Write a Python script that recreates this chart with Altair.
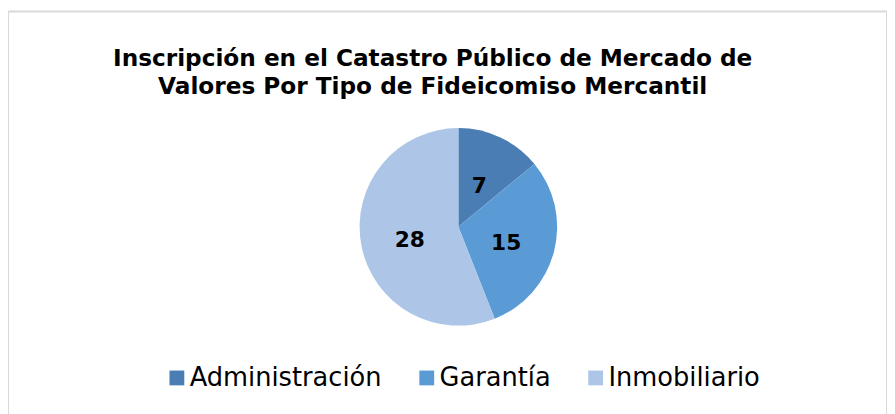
import altair as alt
import pandas as pd

categories = ["Administración", "Garantía", "Inmobiliario"]
values = [7, 15, 28]
colors = ["#4a7db4", "#5b9bd5", "#adc6e8"]
title_lines = ["Inscripción en el Catastro Público de Mercado de",
               "Valores Por Tipo de Fideicomiso Mercantil"]

df = pd.DataFrame({"Tipo": categories, "Valor": values,
                   "orden": list(range(len(categories)))})

base = alt.Chart(df).encode(
    theta=alt.Theta("Valor:Q", stack=True),
    order=alt.Order("orden:Q"),
    color=alt.Color(
        "Tipo:N",
        scale=alt.Scale(domain=categories, range=colors),
        legend=alt.Legend(
            orient="none", legendX=158, legendY=358, direction="horizontal",
            title=None, symbolType="square", symbolSize=225, symbolStrokeWidth=0,
            symbolOpacity=1, labelFont="DejaVu Sans", labelFontSize=26,
            labelColor="black", labelOffset=0, columnPadding=32, labelLimit=400,
            padding=0,
        ),
    ),
)

pie = base.mark_arc(radius=100).encode(x=alt.value(456), y=alt.value(218))
labels = base.mark_text(
    radius=50, font="DejaVu Sans", fontWeight="bold", fontSize=22, dy=4
).encode(text="Valor:Q", color=alt.value("black"),
         x=alt.value(456), y=alt.value(218))

chart = (
    alt.layer(pie, labels)
    .properties(
        width=890, height=410,
        autosize=alt.AutoSizeParams(type="none"),
        padding={"left": 0, "top": 1, "right": 0, "bottom": 0},
        title=alt.TitleParams(
            text=title_lines, font="DejaVu Sans", fontWeight="bold",
            fontSize=23.5, lineHeight=28, anchor="middle", dx=-15, dy=92,
            color="black",
        ),
        background="white",
    )
    .configure_view(stroke="#d9d9d9", strokeWidth=2)
)

chart.save("out.html", embed_options={"renderer": "svg", "actions": False})
